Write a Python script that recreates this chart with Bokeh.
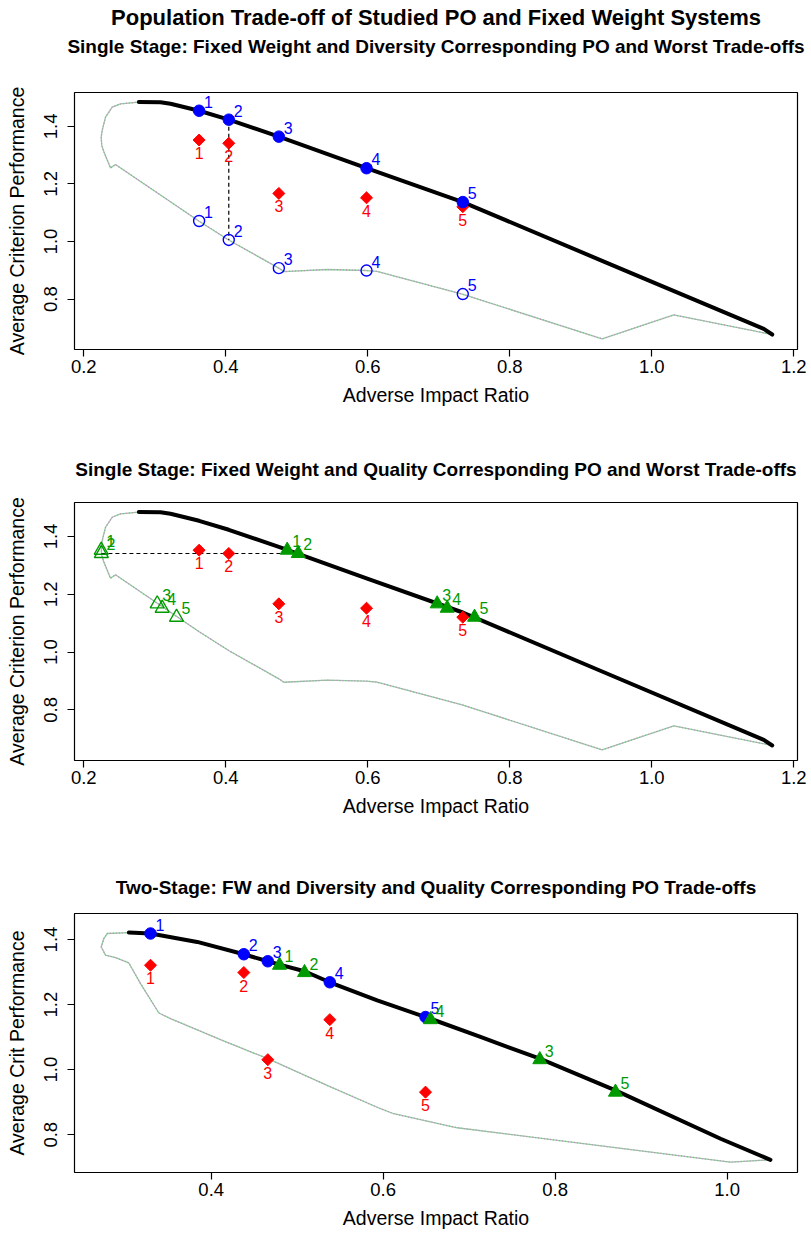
from bokeh.plotting import figure
from bokeh.layouts import column
from bokeh.models import Range1d, FixedTicker, PrintfTickFormatter, Title, ColumnDataSource, LinearAxis
from bokeh.core.properties import value
from bokeh.embed import file_html
from bokeh.resources import INLINE

# ---------------- data ----------------
# single-stage Pareto-optimal frontier (adverse impact ratio, criterion)
frontier_ai = [0.2775, 0.308, 0.3221, 0.3624, 0.4042, 0.4747, 0.5982, 0.7338, 0.930, 1.1577, 1.1696]
frontier_crit = [1.4845, 1.484, 1.4785, 1.4543, 1.4232, 1.3643, 1.2547, 1.137, 0.933, 0.6965, 0.677]

# single-stage worst trade-off envelope
worst_ai = [0.2775, 0.2517, 0.24, 0.2306, 0.2259, 0.2245, 0.2252, 0.228, 0.2376, 0.2446,
            0.362, 0.404, 0.4747, 0.4817, 0.5428, 0.5982, 0.613, 0.7329, 0.930, 1.031, 1.1696]
worst_crit = [1.4845, 1.478, 1.4666, 1.432, 1.386, 1.363, 1.335, 1.3135, 1.2557, 1.2675,
              1.0713, 1.0055, 0.9076, 0.8958, 0.9028, 0.8993, 0.896, 0.8176, 0.662, 0.745, 0.677]

# single-stage fixed weight systems 1..5
fw1_ai = [0.3624, 0.4042, 0.4747, 0.5982, 0.7338]
fw1_crit = [1.3526, 1.3412, 1.1671, 1.1519, 1.1208]
# diversity corresponding PO and worst systems (same AI ratio)
po_div1_crit = [1.4543, 1.4232, 1.3643, 1.2547, 1.137]
worst_div1_crit = [1.0713, 1.0055, 0.9076, 0.8993, 0.8176]
# quality corresponding PO and worst systems (same criterion)
po_qual1_ai = [0.4865, 0.502, 0.6977, 0.7118, 0.7503]
worst_qual1_ai = [0.2245, 0.2248, 0.3034, 0.3104, 0.3306]

# two-stage frontier and envelope
frontier2_ai = [0.3042, 0.3294, 0.3837, 0.4379, 0.4658, 0.4794, 0.5085, 0.5379, 0.593, 0.6492,
                0.655, 0.7131, 0.7821, 0.8701, 0.9924, 1.0503]
frontier2_crit = [1.4215, 1.4185, 1.3926, 1.3548, 1.3332, 1.323, 1.3025, 1.2686, 1.2132, 1.1618,
                  1.1565, 1.1005, 1.0338, 0.9363, 0.7877, 0.723]
worst2_ai = [0.3042, 0.2791, 0.2751, 0.2721, 0.2771, 0.2887, 0.3042, 0.3178, 0.3391, 0.3527,
             0.4108, 0.4658, 0.5348, 0.5969, 0.6123, 0.686, 1.0039, 1.0503]
worst2_crit = [1.4215, 1.4185, 1.403, 1.377, 1.352, 1.3446, 1.328, 1.2646, 1.1742, 1.157,
               1.0923, 1.0338, 0.9517, 0.88, 0.8646, 0.8215, 0.7157, 0.723]

fw2_ai = [0.3294, 0.4379, 0.4658, 0.5379, 0.6492]
fw2_crit = [1.321, 1.2985, 1.0308, 1.1538, 0.931]
po_div2_crit = [1.4185, 1.3548, 1.3332, 1.2686, 1.1618]
po_qual2_ai = [0.4794, 0.5085, 0.7821, 0.655, 0.8701]

system_labels = ["1", "2", "3", "4", "5"]

x_ticks_single = [0.2, 0.4, 0.6, 0.8, 1.0, 1.2]
x_ticks_two = [0.4, 0.6, 0.8, 1.0]
y_ticks = [0.8, 1.0, 1.2, 1.4]

FONT = "Liberation Sans"
BLUE = "#0000FF"
RED = "#FF0000"
GREEN = "#009A00"
SUB_SIZE = "19px"


def base_panel(height, top, bottom, xr, yr, xticks, ylabel):
    p = figure(width=811, height=height, x_range=Range1d(*xr), y_range=Range1d(*yr),
               output_backend="svg", toolbar_location=None,
               min_border_left=74, min_border_right=14,
               min_border_top=top, min_border_bottom=bottom)
    p.grid.visible = False
    p.outline_line_color = "black"
    p.outline_line_width = 1.2
    p.outline_line_alpha = 1
    p.background_fill_color = "white"
    p.border_fill_color = "white"

    for ax in (p.xaxis, p.yaxis):
        ax.axis_line_color = None
        ax.major_tick_line_color = "black"
        ax.major_tick_line_width = 1.2
        ax.major_tick_out = 7
        ax.major_tick_in = 0
        ax.minor_tick_line_color = None
        ax.major_label_text_font = FONT
        ax.major_label_text_font_size = "18.5px"
        ax.major_label_text_color = "black"
        ax.axis_label_text_font = FONT
        ax.axis_label_text_font_size = "19.5px"
        ax.axis_label_text_font_style = "normal"
        ax.axis_label_text_color = "black"
        ax.formatter = PrintfTickFormatter(format="%.1f")

    p.xaxis.ticker = FixedTicker(ticks=xticks)
    p.yaxis.ticker = FixedTicker(ticks=y_ticks)
    p.xaxis.axis_label = "Adverse Impact Ratio"
    p.yaxis.axis_label = ylabel
    p.yaxis.major_label_orientation = "vertical"
    p.xaxis.major_label_standoff = 3
    p.xaxis.axis_label_standoff = 8
    p.yaxis.major_label_standoff = 10
    p.yaxis.axis_label_standoff = 14
    return p


def subtitle_title(p, text, standoff):
    p.add_layout(Title(text=text, align="center", text_font=FONT, text_font_size=SUB_SIZE,
                       text_font_style="bold", text_color="black", standoff=standoff), "above")


def subtitle_axis(p, text, standoff):
    # an empty top axis whose label carries the panel heading
    ax = LinearAxis(ticker=FixedTicker(ticks=[]), axis_label=text,
                    axis_line_color=None, major_tick_line_color=None, minor_tick_line_color=None,
                    major_tick_out=0, major_tick_in=0, major_label_standoff=0,
                    axis_label_standoff=standoff, axis_label_text_font=FONT,
                    axis_label_text_font_size=SUB_SIZE, axis_label_text_font_style="bold",
                    axis_label_text_color="black")
    p.add_layout(ax, "above")


def envelope(p, xs, ys):
    p.line(xs, ys, line_color="#8fcf9c", line_width=1.3)
    p.line(xs, ys, line_color="#c78ac7", line_width=1.3, line_dash="1 2")


def frontier(p, xs, ys):
    p.line(xs, ys, line_color="black", line_width=4, line_cap="round", line_join="round")


def labels_right(p, xs, ys, color):
    src = ColumnDataSource(dict(x=xs, y=ys, t=system_labels))
    p.text("x", "y", text="t", source=src, text_color=color, text_font=value(FONT),
           text_font_size="16px", text_align="left", text_baseline="top",
           x_offset=5, y_offset=-15)


def labels_below(p, xs, ys, color):
    src = ColumnDataSource(dict(x=xs, y=ys, t=system_labels))
    p.text("x", "y", text="t", source=src, text_color=color, text_font=value(FONT),
           text_font_size="16px", text_align="center", text_baseline="top",
           x_offset=0, y_offset=7)


def fixed_weights(p, xs, ys):
    p.scatter(xs, ys, marker="square", angle=0.7854, size=8.5, fill_color=RED, line_color=RED)
    labels_below(p, xs, ys, RED)


XR1 = (0.1869, 1.2052)
YR1 = (0.625, 1.5176)

# ---------- panel 1: diversity corresponding PO and worst ----------
p1 = base_panel(425, 91, 76, XR1, YR1, x_ticks_single, "Average Criterion Performance")
subtitle_axis(p1, "Single Stage: Fixed Weight and Diversity Corresponding PO and Worst Trade-offs", 36)
p1.add_layout(Title(text="Population Trade-off of Studied PO and Fixed Weight Systems", align="center",
                    text_font=FONT, text_font_size="22px", text_font_style="bold",
                    text_color="black", standoff=5), "above")
envelope(p1, worst_ai, worst_crit)
frontier(p1, frontier_ai, frontier_crit)
p1.line([fw1_ai[1], fw1_ai[1]], [po_div1_crit[1], worst_div1_crit[1]],
        line_color="black", line_width=1.2, line_dash="4 3")
fixed_weights(p1, fw1_ai, fw1_crit)
p1.scatter(fw1_ai, po_div1_crit, marker="circle", size=11.5, fill_color=BLUE, line_color=BLUE)
labels_right(p1, fw1_ai, po_div1_crit, BLUE)
p1.scatter(fw1_ai, worst_div1_crit, marker="circle", size=11, fill_color=None,
           line_color=BLUE, line_width=1.4)
labels_right(p1, fw1_ai, worst_div1_crit, BLUE)

# ---------- panel 2: quality corresponding PO and worst ----------
p2 = base_panel(415, 77, 80, XR1, YR1, x_ticks_single, "Average Criterion Performance")
subtitle_title(p2, "Single Stage: Fixed Weight and Quality Corresponding PO and Worst Trade-offs", 45)
envelope(p2, worst_ai, worst_crit)
frontier(p2, frontier_ai, frontier_crit)
p2.line([worst_qual1_ai[1], po_qual1_ai[1]], [fw1_crit[1], fw1_crit[1]],
        line_color="black", line_width=1.2, line_dash="4 3")
fixed_weights(p2, fw1_ai, fw1_crit)
p2.scatter(po_qual1_ai, fw1_crit, marker="triangle", size=14, fill_color=GREEN, line_color=GREEN)
labels_right(p2, po_qual1_ai, fw1_crit, GREEN)
p2.scatter(worst_qual1_ai, fw1_crit, marker="triangle", size=14, fill_color=None,
           line_color=GREEN, line_width=1.4)
labels_right(p2, worst_qual1_ai, fw1_crit, GREEN)

# ---------- panel 3: two-stage ----------
p3 = base_panel(395, 73, 63, (0.241, 1.0818), (0.684, 1.48), x_ticks_two, "Average Crit Performance")
subtitle_title(p3, "Two-Stage: FW and Diversity and Quality Corresponding PO Trade-offs", 31)
envelope(p3, worst2_ai, worst2_crit)
frontier(p3, frontier2_ai, frontier2_crit)
fixed_weights(p3, fw2_ai, fw2_crit)
p3.scatter(fw2_ai, po_div2_crit, marker="circle", size=11.5, fill_color=BLUE, line_color=BLUE)
labels_right(p3, fw2_ai, po_div2_crit, BLUE)
p3.scatter(po_qual2_ai, fw2_crit, marker="triangle", size=14, fill_color=GREEN, line_color=GREEN)
labels_right(p3, po_qual2_ai, fw2_crit, GREEN)

layout = column(p1, p2, p3, spacing=0)
open("out.html", "w").write(file_html(layout, INLINE))
